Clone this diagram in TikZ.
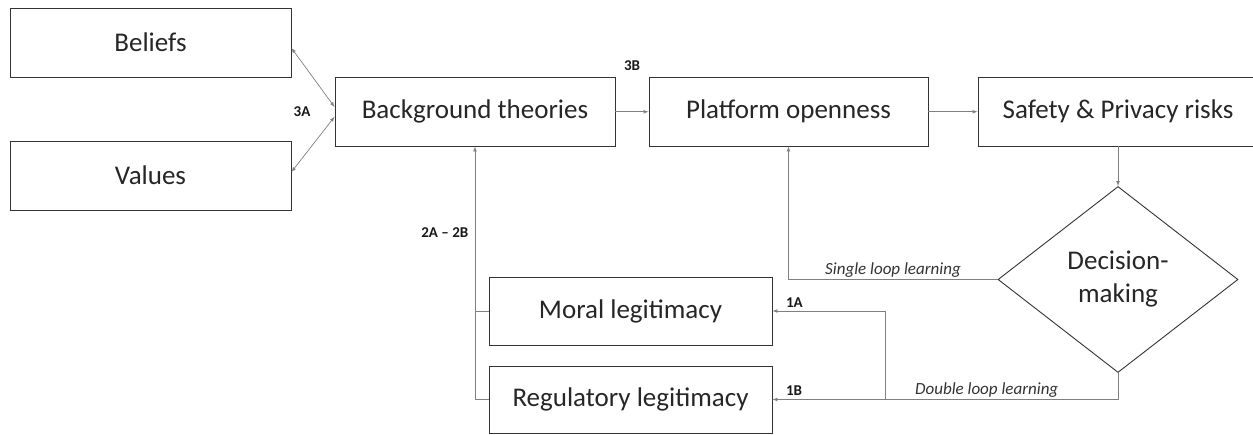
\documentclass[tikz,border=0pt]{standalone}
\usepackage{fontspec}
\setmainfont{Carlito}
\usepackage{tikz}
\usetikzlibrary{arrows,shapes}
\tikzstyle{block}=[rectangle,draw=black!80,line width=0.9pt,inner sep=0pt,text=black!85,font=\fontsize{27}{33}\selectfont]
\tikzstyle{decision}=[diamond,draw=black!80,line width=0.9pt,aspect=1.3,minimum width=240pt,minimum height=186pt,inner sep=0pt,align=center,text=black!85,font=\fontsize{27}{33}\selectfont]
\tikzstyle{link}=[draw,gray,line width=0.7pt]
\tikzstyle{arrow}=[link,->,>=latex]
\tikzstyle{biarrow}=[link,<->,>=latex]
\tikzstyle{tagtext}=[text=black!90,font=\bfseries\fontsize{15}{17}\selectfont]
\tikzstyle{looplabel}=[text=black!80,font=\itshape\fontsize{17}{20}\selectfont]

\begin{document}
\begin{tikzpicture}[x=1pt,y=-1pt]
    \useasboundingbox (0,0) rectangle (1253,434);
    \foreach \name/\pos/\bw/\bh/\txt in {{beliefs/(150.5,42.5)/281/69/Beliefs}, {values/(150.5,175.5)/281/69/Values},
        {theories/(475,111.75)/280/68.5/Background theories}, {openness/(788.5,111.75)/279/68.5/Platform openness},
        {risks/(1118,111.75)/280/68.5/Safety \& Privacy risks},
        {moral/(630.5,311)/283/68/Moral legitimacy}, {regulatory/(630.5,399.5)/283/67/Regulatory legitimacy}}
        \node[block,minimum width=\bw pt,minimum height=\bh pt] (\name) at \pos {\txt};
    \node[decision] (decide) at (1118,279.5) {Decision-\\making};
    % beliefs and values
    \path[biarrow] ([yshift=4.75pt]theories.west) -- ([yshift=-5.5pt]beliefs.east);
    \path[biarrow] ([yshift=-5pt]theories.west) -- ([yshift=3.5pt]values.east);
    \node[tagtext] (tag3a) at (302,112) {3A};
    % main chain
    \path[arrow] (theories) -- (openness);
    \node[tagtext] (tag3b) at (632,66) {3B};
    \path[arrow] (openness) -- (risks);
    \path[arrow] (risks) -- (decide);
    % learning loops
    \path[arrow] (decide.west) -| node[looplabel,pos=0.25,above,inner sep=2pt] {Single loop learning} (openness.south);
    \coordinate (split) at (885,399.5);
    \path[arrow] (decide.south) |- node[looplabel,pos=0.69,above,inner sep=2pt] {Double loop learning}
        node[tagtext,pos=1,above right,xshift=10pt] {1B} (regulatory.east);
    \path[arrow] (split) |- node[tagtext,pos=1,above right,xshift=10pt] {1A} (moral.east);
    % legitimacy
    \coordinate (trunk) at (475,399.5);
    \path[arrow] (regulatory.west) -- (trunk) -- node[tagtext,pos=0.66,left,xshift=-3pt] {2A -- 2B} (theories.south);
    \path[link] (moral.west) -- (moral.west -| trunk);
\end{tikzpicture}
\end{document}
